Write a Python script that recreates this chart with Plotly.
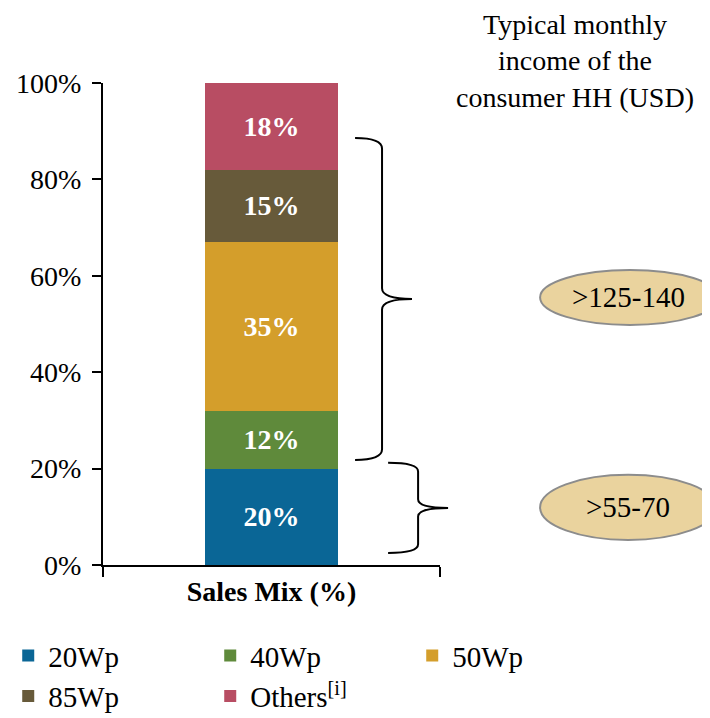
import plotly.graph_objects as go

# Sales mix by panel size (bottom to top)
category = ['<b>Sales Mix (%)</b>']
segments = ['20Wp', '40Wp', '50Wp', '85Wp', 'Others<sup>[i]</sup>']
shares = [20, 12, 35, 15, 18]
colors = ['#0A6696', '#5F8A3B', '#D49E2B', '#675A3A', '#B84D63']

# Income bands shown to the right
income_labels = ['>125-140', '>55-70']

FONT = 'Liberation Serif'


def brace_path(x0, x1, x2, ytop, ybot, r=2.0):
    """Right-facing curly brace in (paper x, data y) coordinates."""
    ymid = (ytop + ybot) / 2
    return (
        f'M{x0},{ytop} Q{x1},{ytop} {x1},{ytop - r} '
        f'L{x1},{ymid + r} Q{x1},{ymid} {x2},{ymid} '
        f'Q{x1},{ymid} {x1},{ymid - r} '
        f'L{x1},{ybot + r} Q{x1},{ybot} {x0},{ybot}'
    )


fig = go.Figure()

for name, val, col in zip(segments, shares, colors):
    fig.add_trace(go.Bar(
        x=category,
        y=[val],
        name=name,
        marker=dict(color=col, line=dict(width=0)),
        width=0.395,
        text=[f'<b>{val}%</b>'],
        textposition='inside',
        insidetextanchor='middle',
        textfont=dict(family=FONT, size=28, color='white'),
        hoverinfo='skip',
    ))

# Braces: upper one spans 40Wp up to Others, lower one 20Wp
fig.add_shape(type='path', xref='paper', yref='y',
              path=brace_path(0.748, 0.828, 0.917, 88.6, 21.8, r=2.2),
              line=dict(color='black', width=2))
fig.add_shape(type='path', xref='paper', yref='y',
              path=brace_path(0.846, 0.935, 1.024, 21.2, 2.5, r=1.8),
              line=dict(color='black', width=2))

# Income ellipses
ellipse_pos = [(1.297, 1.83, 49.8, 61.2), (1.297, 1.82, 5.2, 18.7)]
for label, (xa, xb, ya, yb) in zip(income_labels, ellipse_pos):
    fig.add_shape(type='circle', xref='paper', yref='y',
                  x0=xa, x1=xb, y0=ya, y1=yb,
                  fillcolor='#EAD39E', line=dict(color='#8C8C8C', width=2),
                  layer='below')
    fig.add_annotation(xref='paper', yref='y', x=1.559, xanchor='center',
                       y=(ya + yb) / 2, yanchor='middle', text=label,
                       showarrow=False,
                       font=dict(family=FONT, size=29, color='black'))

fig.add_annotation(
    xref='paper', yref='paper', x=1.40, y=1.158, xanchor='center',
    yanchor='top', showarrow=False, align='center',
    text='Typical monthly<br>income of the<br>consumer HH (USD)',
    font=dict(family=FONT, size=28, color='black'),
)

fig.update_layout(
    barmode='stack',
    width=710,
    height=718,
    margin=dict(l=95, r=278, t=75, b=161, autoexpand=False),
    paper_bgcolor='white',
    plot_bgcolor='white',
    font=dict(family=FONT, size=26, color='black'),
    showlegend=True,
    legend=dict(
        orientation='h', traceorder='normal',
        xref='paper', x=1.517, yref='paper', y=-0.135,
        xanchor='right', yanchor='top',
        entrywidth=157, entrywidthmode='pixels',
        font=dict(family=FONT, size=29, color='black'),
        itemwidth=30, tracegroupgap=0,
    ),
    uniformtext=dict(mode='show', minsize=10),
)

fig.update_xaxes(
    type='category',
    range=[-0.5, 0.5],
    showline=True, linecolor='black', linewidth=2,
    ticks='outside', tickson='boundaries', ticklen=10, tickwidth=2,
    tickcolor='black', showgrid=False,
    tickfont=dict(family=FONT, size=28, color='black'),
)
fig.update_yaxes(
    range=[0, 100], dtick=20, ticksuffix='%',
    showline=True, linecolor='black', linewidth=2,
    ticks='outside', ticklen=9, tickwidth=2, tickcolor='black',
    ticklabelstandoff=5,
    showgrid=False, zeroline=False,
    tickfont=dict(family=FONT, size=28, color='black'),
)

fig.write_html('out.html')
